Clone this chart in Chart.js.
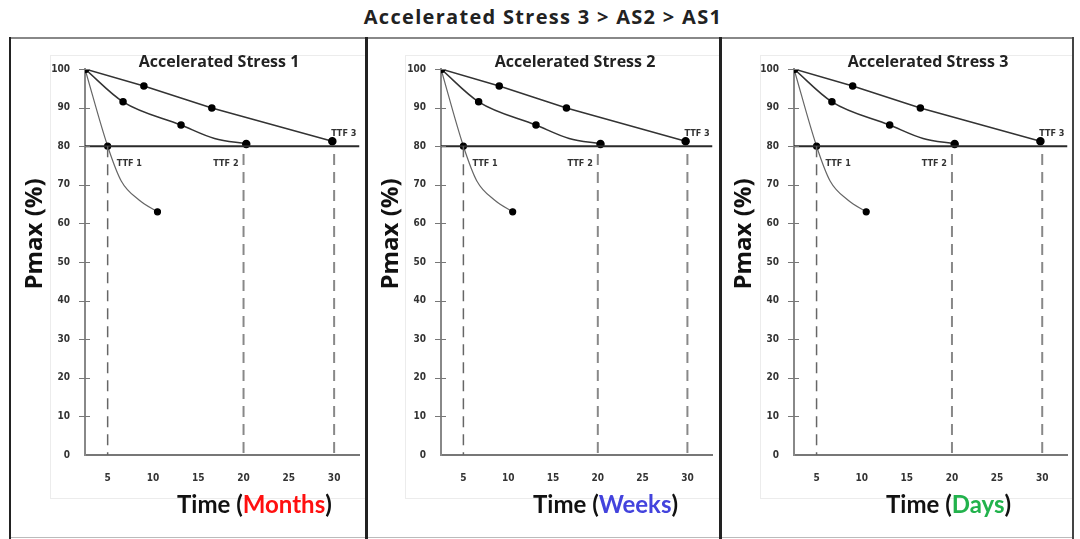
<!DOCTYPE html>
<html>
<head>
<meta charset="utf-8">
<script src="https://cdn.jsdelivr.net/npm/chart.js@4.4.1/dist/chart.umd.min.js"></script>
<style>
  body { margin: 0; background: #fff; }
  #page { position: relative; width: 1080px; height: 539px; overflow: hidden; background: #fff; }
  #mainTitle {
    position: absolute; left: 0; top: 3px; width: 1086px; text-align: center;
    font: bold 20px 'Open Sans', sans-serif; letter-spacing: 1.3px; color: #222;
  }
  .frame { position: absolute; top: 55px; height: 442px; border: 1px solid #ececec; }
  .rule { position: absolute; background: #222; }
  canvas { position: absolute; top: 38px; }
</style>
</head>
<body>
<div id="page">
  <div id="mainTitle">Accelerated Stress 3 &gt; AS2 &gt; AS1</div>
  <div class="frame" style="left:50px;width:315px"></div>
  <div class="frame" style="left:405px;width:313px"></div>
  <div class="frame" style="left:760px;width:312px"></div>
  <canvas id="panel1" width="353" height="498" style="left:12px"></canvas>
  <canvas id="panel2" width="350" height="498" style="left:368px"></canvas>
  <canvas id="panel3" width="352" height="498" style="left:721px"></canvas>
  <div class="rule" style="left:10px;top:37px;width:1064px;height:2px;background:#888"></div>
  <div class="rule" style="left:10px;top:537px;width:1064px;height:1px;background:#bbb"></div>
  <div class="rule" style="left:9px;top:37px;width:2px;height:502px"></div>
  <div class="rule" style="left:365px;top:37px;width:3px;height:502px"></div>
  <div class="rule" style="left:719px;top:37px;width:3px;height:502px"></div>
  <div class="rule" style="left:1072px;top:37px;width:2px;height:502px;background:#444"></div>
</div>
<script>
// degradation curves, same shape on every panel (only the time unit changes)
const fastTime = [2.5, 5, 6.5, 8.5, 10.5];
const fastPmax = [100, 80, 71, 66, 63];
const midTime = [2.5, 6.7, 13.1, 16.8, 20.3];
const midPmax = [100, 91.5, 85.5, 82.0, 80.6];
const slowTime = [2.5, 9.0, 16.5, 29.8];
const slowPmax = [100, 95.6, 89.9, 81.3];

const failLevel = 80;
const ttfTimes = [5, 20, 30];
const ttfLabels = ['TTF 1', 'TTF 2', 'TTF 3'];

const xTicks = [5, 10, 15, 20, 25, 30];
const yTicks = [0, 10, 20, 30, 40, 50, 60, 70, 80, 90, 100];

const panelTitles = ['Accelerated Stress 1', 'Accelerated Stress 2', 'Accelerated Stress 3'];
const timeUnits = ['Months', 'Weeks', 'Days'];
const unitColors = ['#ff1010', '#4343dd', '#22b24c'];

const X_MIN = 2.5, X_MAX = 32.8;
const narrowFamily = "'Liberation Sans Narrow', 'DejaVu Sans Condensed', sans-serif";
const tickFont = 'bold 9px ' + narrowFamily;

const toPoints = (xs, ys) => xs.map((x, i) => ({ x: x, y: ys[i] }));

function panelDecor(idx) {
  return {
    id: 'panelDecor' + idx,
    afterDraw(chart) {
      const ctx = chart.ctx;
      const xs = chart.scales.x, ys = chart.scales.y;
      const area = chart.chartArea;
      ctx.save();

      // small tick marks crossing the y axis
      ctx.strokeStyle = '#777';
      ctx.lineWidth = 1;
      yTicks.forEach(v => {
        if (v === 0) return;
        const py = Math.round(ys.getPixelForValue(v)) + 0.5;
        ctx.beginPath();
        ctx.moveTo(area.left - 6, py);
        ctx.lineTo(area.left + 5, py);
        ctx.stroke();
      });

      // TTF labels
      ctx.fillStyle = '#333';
      ctx.font = tickFont;
      ctx.textBaseline = 'middle';
      const y80 = ys.getPixelForValue(failLevel);
      ctx.textAlign = 'left';
      ctx.fillText(ttfLabels[0], xs.getPixelForValue(ttfTimes[0]) + 9, y80 + 17);
      ctx.textAlign = 'right';
      ctx.fillText(ttfLabels[1], xs.getPixelForValue(ttfTimes[1]) - 5, y80 + 17);
      ctx.textAlign = 'left';
      ctx.fillText(ttfLabels[2], xs.getPixelForValue(ttfTimes[2]) - 3, y80 - 13);

      // panel title
      ctx.fillStyle = '#222';
      ctx.font = "bold 16px 'Open Sans', sans-serif";
      ctx.textAlign = 'center';
      ctx.fillText(panelTitles[idx], area.left + 134, 24);

      // y axis title
      ctx.save();
      ctx.translate(23, 196);
      ctx.rotate(-Math.PI / 2);
      ctx.font = "bold 24px 'Open Sans', sans-serif";
      ctx.fillStyle = '#111';
      ctx.textAlign = 'center';
      ctx.fillText('Pmax (%)', 0, 0);
      ctx.restore();

      // x axis title with coloured unit
      ctx.font = 'bold 24px Lato, sans-serif';
      ctx.textAlign = 'left';
      let tx = area.left + 92;
      const ty = 467;
      const parts = [['Time (', '#111'], [timeUnits[idx], unitColors[idx]], [')', '#111']];
      parts.forEach(p => {
        ctx.fillStyle = p[1];
        ctx.fillText(p[0], tx, ty);
        tx += ctx.measureText(p[0]).width;
      });

      ctx.restore();
    }
  };
}

function buildPanel(canvasId, idx) {
  const ctx = document.getElementById(canvasId).getContext('2d');
  const dashed = ttfTimes.map((t, i) => ({
    data: [{ x: t, y: i === 0 ? failLevel : failLevel - 2 }, { x: t, y: 0 }],
    showLine: true,
    borderColor: i === 0 ? '#666' : '#888',
    borderWidth: i === 0 ? 1.5 : 2,
    borderDash: [11, 7],
    pointRadius: 0
  }));

  return new Chart(ctx, {
    type: 'scatter',
    data: {
      datasets: [
        ...dashed,
        {
          data: [{ x: X_MIN, y: failLevel }, { x: X_MAX, y: failLevel }],
          showLine: true,
          borderColor: '#2a2a2a',
          borderWidth: 2,
          pointRadius: 0
        },
        {
          data: toPoints(fastTime, fastPmax),
          showLine: true,
          cubicInterpolationMode: 'monotone',
          borderColor: '#666',
          borderWidth: 1.2,
          pointRadius: [3.5, 3, 0, 0, 3],
          pointBackgroundColor: '#000',
          pointBorderColor: '#000'
        },
        {
          data: toPoints(midTime, midPmax),
          showLine: true,
          cubicInterpolationMode: 'monotone',
          borderColor: '#333',
          borderWidth: 1.5,
          pointRadius: [3.5, 3, 3, 0, 3.5],
          pointBackgroundColor: '#000',
          pointBorderColor: '#000'
        },
        {
          data: toPoints(slowTime, slowPmax),
          showLine: true,
          borderColor: '#333',
          borderWidth: 1.5,
          pointRadius: [3.5, 3, 3, 3.5],
          pointBackgroundColor: '#000',
          pointBorderColor: '#000'
        }
      ]
    },
    options: {
      responsive: false,
      animation: false,
      events: [],
      layout: { padding: { top: 31, left: 0, right: 0, bottom: 0 } },
      plugins: { legend: { display: false }, tooltip: { enabled: false }, title: { display: false } },
      scales: {
        x: {
          type: 'linear',
          min: X_MIN,
          max: X_MAX,
          afterBuildTicks: s => { s.ticks = xTicks.map(v => ({ value: v })); },
          afterFit: s => { s.height = 81; },
          grid: { display: false, drawTicks: false },
          border: { display: true, color: '#777', width: 2 },
          ticks: { padding: 17, color: '#333', font: { family: narrowFamily, size: 10, weight: 'bold' } }
        },
        y: {
          type: 'linear',
          min: 0,
          max: 100,
          afterBuildTicks: s => { s.ticks = yTicks.map(v => ({ value: v })); },
          afterFit: s => { s.width = 73; },
          grid: { display: false, drawTicks: false },
          border: { display: true, color: '#888', width: 2 },
          ticks: { padding: 15, color: '#333', font: { family: narrowFamily, size: 10, weight: 'bold' } }
        }
      }
    },
    plugins: [panelDecor(idx)]
  });
}

buildPanel('panel1', 0);
buildPanel('panel2', 1);
buildPanel('panel3', 2);
</script>
</body>
</html>
